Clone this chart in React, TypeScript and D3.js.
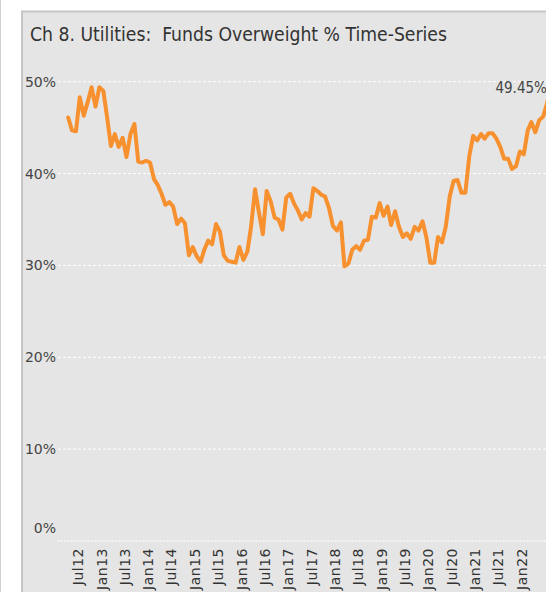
import { useEffect, useRef } from "react";
import * as d3 from "d3";

// monthly share of funds overweight Utilities, Apr 2012 onward
const firstMonth = "2012-04";
const overweightPct = [
  46.1, 44.7, 44.6, 48.3, 46.3, 47.8, 49.4, 47.3, 49.4, 49.0, 46.0, 43.0,
  44.3, 42.9, 43.9, 41.8, 44.3, 45.4, 41.3, 41.2, 41.4, 41.2, 39.4, 38.8,
  37.8, 36.6, 36.9, 36.4, 34.5, 35.1, 34.6, 31.1, 32.0, 31.0, 30.4, 31.7,
  32.7, 32.3, 34.5, 33.7, 31.1, 30.5, 30.4, 30.3, 32.0, 30.6, 31.5, 34.2,
  38.3, 35.8, 33.4, 38.1, 37.0, 35.2, 35.0, 33.9, 37.4, 37.8, 36.7, 36.0,
  35.0, 35.7, 35.3, 38.4, 38.1, 37.7, 37.5, 36.2, 34.3, 33.8, 34.7, 29.9,
  30.2, 31.7, 32.1, 31.7, 32.7, 32.8, 35.3, 35.2, 36.8, 35.4, 36.4, 34.4,
  35.9, 34.2, 33.1, 33.5, 32.9, 34.2, 33.8, 34.8, 33.1, 30.3, 30.3, 33.1,
  32.5, 34.2, 37.5, 39.2, 39.3, 37.9, 37.9, 41.9, 44.1, 43.6, 44.3, 43.8,
  44.4, 44.4, 43.8, 42.9, 41.6, 41.6, 40.5, 40.8, 42.4, 42.1, 44.7, 45.6,
  44.5, 45.8, 46.2, 47.6, 49.45,
];

const xTickLabels = [
  "Jul12", "Jan13", "Jul13", "Jan14", "Jul14", "Jan15", "Jul15", "Jan16",
  "Jul16", "Jan17", "Jul17", "Jan18", "Jul18", "Jan19", "Jul19", "Jan20",
  "Jul20", "Jan21", "Jul21", "Jan22",
];
const yTicks = [0, 10, 20, 30, 40, 50];

const chartTitle = "Ch 8. Utilities:  Funds Overweight % Time-Series";

export default function App() {
  const svgRef = useRef<SVGSVGElement>(null);

  useEffect(() => {
    if (!svgRef.current) return;
    const width = 546;
    const height = 592;
    const font = "'DejaVu Sans', sans-serif";
    const titleFont = "'DejaVu Sans Condensed', 'DejaVu Sans', sans-serif";

    const svg = d3.select(svgRef.current);
    svg.selectAll("*").remove();
    svg.attr("width", width).attr("height", height);

    const parseTick = d3.timeParse("%b%y");
    const tickDates = xTickLabels.map((t) => parseTick(t) as Date);
    const start = d3.timeParse("%Y-%m")(firstMonth) as Date;
    const data = overweightPct.map((v, i) => ({
      date: d3.timeDay.offset(d3.timeMonth.offset(start, i), 14),
      value: v,
    }));

    // x scale anchored on first and last tick label positions
    const x = d3
      .scaleTime()
      .domain([tickDates[0], tickDates[tickDates.length - 1]])
      .range([78, 522]);
    const y = d3.scaleLinear().domain([0, 50]).range([541, 81.7]);

    // outer page + panel
    svg.append("rect").attr("width", width).attr("height", height).attr("fill", "#fff");
    svg
      .append("line")
      .attr("x1", 0.5)
      .attr("x2", 0.5)
      .attr("y1", 0)
      .attr("y2", height)
      .attr("stroke", "#cfcfcf")
      .attr("stroke-width", 1);
    svg
      .append("rect")
      .attr("x", 22)
      .attr("y", 11.5)
      .attr("width", 600)
      .attr("height", 700)
      .attr("fill", "#e5e5e5")
      .attr("stroke", "#c6c6c6")
      .attr("stroke-width", 2);

    svg
      .append("text")
      .attr("x", 30)
      .attr("y", 41)
      .attr("font-family", titleFont)
      .attr("font-size", 19.2)
      .attr("fill", "#333")
      .attr("xml:space", "preserve")
      .style("white-space", "pre")
      .text(chartTitle);

    // gridlines + y labels
    const grid = svg.append("g");
    yTicks.forEach((t) => {
      grid
        .append("line")
        .attr("x1", 58)
        .attr("x2", width)
        .attr("y1", y(t))
        .attr("y2", y(t))
        .attr("stroke", "#fff")
        .attr("stroke-width", 1)
        .attr("stroke-dasharray", t === 0 ? "2,1" : "3,2");
      grid
        .append("text")
        .attr("x", 56)
        .attr("y", y(t) + (t === 0 ? -8 : 5))
        .attr("text-anchor", "end")
        .attr("font-family", font)
        .attr("font-size", 14)
        .attr("fill", "#444")
        .text(`${t}%`);
    });

    // x labels, rotated
    const xl = svg.append("g");
    tickDates.forEach((d, i) => {
      xl.append("text")
        .attr("transform", `translate(${x(d) + 5},548) rotate(-90)`)
        .attr("text-anchor", "end")
        .attr("font-family", font)
        .attr("font-size", 14)
        .attr("letter-spacing", 0.5)
        .attr("fill", "#333")
        .text(xTickLabels[i]);
    });

    const line = d3
      .line<{ date: Date; value: number }>()
      .x((d) => x(d.date))
      .y((d) => y(d.value));

    svg
      .append("path")
      .datum(data)
      .attr("fill", "none")
      .attr("stroke", "#f7912f")
      .attr("stroke-width", 4)
      .attr("stroke-linejoin", "round")
      .attr("stroke-linecap", "round")
      .attr("d", line);

    const last = data[data.length - 1];
    svg
      .append("text")
      .attr("x", x(last.date) - 4)
      .attr("y", y(last.value) + 6)
      .attr("text-anchor", "end")
      .attr("font-family", titleFont)
      .attr("font-size", 15)
      .attr("fill", "#444")
      .text(`${last.value.toFixed(2)}%`);
  }, []);

  return (
    <svg
      ref={svgRef}
      style={{ position: "absolute", left: 0, top: 0, display: "block" }}
    />
  );
}
